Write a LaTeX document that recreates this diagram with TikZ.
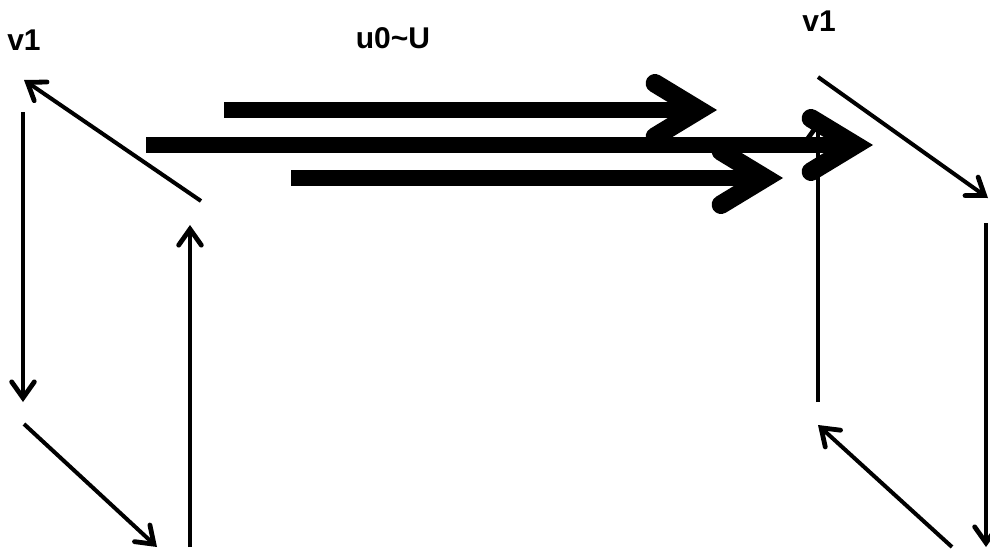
\documentclass[tikz,border=0pt]{standalone}
\usepackage{fontspec}
\setmainfont{Liberation Sans}
\usetikzlibrary{arrows.meta}
\tikzset{
thinarrow/.style={line width=3pt,-{Straight Barb[length=12pt,width=17pt,line cap=round,line join=miter,line width=3.6pt]}},
thickarrow/.style={line width=12pt,-{Straight Barb[length=33pt,width=40pt,line cap=round,line join=miter,line width=14pt]}},
lbl/.style={font=\fontsize{22.5pt}{26pt}\selectfont\bfseries,inner sep=0pt,anchor=base}
}
\begin{document}
\begin{tikzpicture}[x=0.75pt,y=-0.75pt]
\useasboundingbox (0,0) rectangle (990,550);
\node[lbl] (vleft) at (24,50) {v1};
\node[lbl] (vright) at (819,31) {v1};
\node[lbl] (ulabel) at (393,48) {u0\textasciitilde U};
% left side
\coordinate (la) at (201,201);
\coordinate (lb) at (24,80);
\coordinate (lc) at (23,112);
\coordinate (ld) at (23,402);
\coordinate (le) at (24,424);
\coordinate (lf) at (157,547);
\coordinate (lg) at (190,547);
\coordinate (lh) at (190,225);
\draw[thinarrow] (la)--(lb);
\draw[thinarrow] (lc)--(ld);
\draw[thinarrow] (le)--(lf);
\draw[thinarrow] (lg)--(lh);
% right side
\coordinate (ra) at (818,77);
\coordinate (rb) at (988,198);
\coordinate (rc) at (986,223);
\coordinate (rd) at (986,547);
\coordinate (re) at (952,547);
\coordinate (rf) at (818,425);
\coordinate (rg) at (818,402);
\coordinate (rh) at (818,120);
\draw[thinarrow] (ra)--(rb);
\draw[thinarrow] (rc)--(rd);
\draw[thinarrow] (re)--(rf);
\draw[thinarrow] (rg)--(rh);
% thick arrows
\coordinate (ta) at (224,110);
\coordinate (tb) at (717,110);
\coordinate (tc) at (146,145);
\coordinate (td) at (873,145);
\coordinate (te) at (291,178);
\coordinate (tf) at (783,178);
\draw[thickarrow] (ta)--(tb);
\draw[thickarrow] (tc)--(td);
\draw[thickarrow] (te)--(tf);
\end{tikzpicture}
\end{document}
